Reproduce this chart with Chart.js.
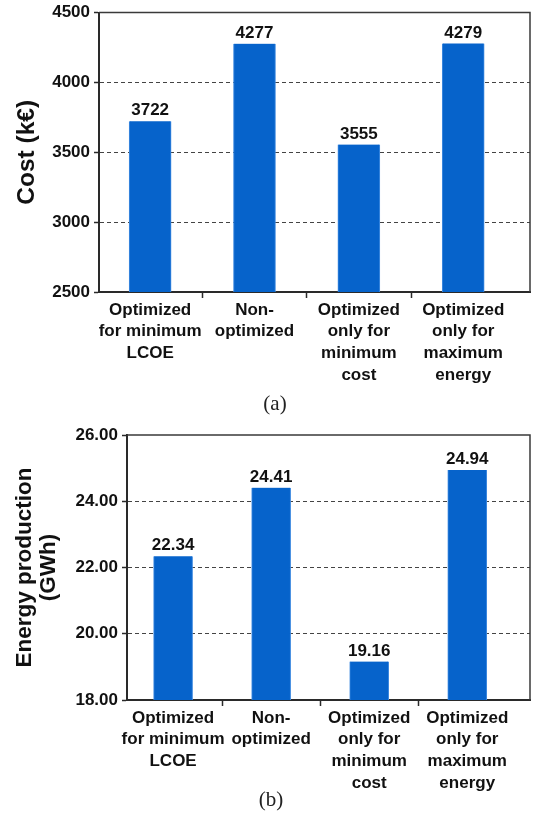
<!DOCTYPE html>
<html>
<head>
<meta charset="utf-8">
<script src="https://cdn.jsdelivr.net/npm/chart.js@4.4.1/dist/chart.umd.min.js"></script>
<style>
  html, body { margin: 0; padding: 0; background: #fff; }
  body { width: 537px; height: 814px; position: relative; overflow: hidden; }
  .wrap { position: absolute; left: 0; width: 537px; }
  .cap { position: absolute; font-family: 'Liberation Serif', 'DejaVu Serif', serif; font-size: 21px; color: #222; transform: translate(-50%, -50%); white-space: nowrap; z-index: 5; }
</style>
</head>
<body>
<div class="wrap" style="top:0;height:410px"><canvas id="c1" width="537" height="410"></canvas></div>
<div class="wrap" style="top:410px;height:404px"><canvas id="c2" width="537" height="404"></canvas></div>
<div class="cap" style="left:275px;top:403px">(a)</div>
<div class="cap" style="left:271px;top:799px">(b)</div>
<script>
// ---- data ----
const categories = [
  ['Optimized', 'for minimum', 'LCOE'],
  ['Non-', 'optimized'],
  ['Optimized', 'only for', 'minimum', 'cost'],
  ['Optimized', 'only for', 'maximum', 'energy']
];
const costValues = [3722, 4277, 3555, 4279];
const energyValues = [22.34, 24.41, 19.16, 24.94];
const costTicks = [2500, 3000, 3500, 4000, 4500];
const energyTicks = [18, 20, 22, 24, 26];
const costTitle = 'Cost (k€)';
const energyTitle = ['Energy production', '(GWh)'];

// ---- styling ----
const BAR = '#0663cb';
const AXIS = '#2a2a2a';
const FONT = "'Liberation Sans', Arial, sans-serif";
const TXT = '#111';

const frameAndLabels = {
  id: 'frameAndLabels',
  afterDatasetsDraw(chart, args, opts) {
    const {ctx, chartArea: a} = chart;
    ctx.save();
    ctx.strokeStyle = '#3a3a3a';
    ctx.lineWidth = 1.5;
    ctx.beginPath();
    ctx.moveTo(a.left, a.top);
    ctx.lineTo(a.right, a.top);
    ctx.lineTo(a.right, a.bottom);
    ctx.stroke();
    const meta = chart.getDatasetMeta(0);
    ctx.fillStyle = TXT;
    ctx.font = 'bold 17px ' + FONT;
    ctx.textAlign = 'center';
    ctx.textBaseline = 'bottom';
    meta.data.forEach((el, i) => {
      const v = chart.data.datasets[0].data[i].y;
      ctx.fillText(opts.fmt(v), el.x, el.y - 2);
    });
    ctx.restore();
  }
};

function makeChart(id, values, yTicks, title, cfg) {
  const boundaryTicks = [0, 0.5, 1, 1.5, 2, 2.5, 3];
  return new Chart(document.getElementById(id), {
    type: 'bar',
    data: {
      datasets: [{
        data: values.map((v, i) => ({x: i, y: v})),
        backgroundColor: BAR,
        borderColor: '#3f8ae0',
        borderWidth: {left: 1, right: 1, top: 0, bottom: 0},
        barThickness: cfg.barThickness
      }]
    },
    options: {
      responsive: false,
      animation: false,
      devicePixelRatio: 1,
      layout: {padding: {top: cfg.padTop, right: 7, left: 0, bottom: 0}},
      plugins: {
        legend: {display: false},
        tooltip: {enabled: false},
        frameAndLabels: {fmt: cfg.fmt}
      },
      scales: {
        x: {
          type: 'linear',
          offset: false,
          min: cfg.xMin,
          max: cfg.xMax,
          afterBuildTicks: (s) => { s.ticks = boundaryTicks.map(v => ({value: v})); },
          afterFit: (s) => { s.height = cfg.xHeight; },
          ticks: {
            autoSkip: false,
            maxRotation: 0,
            minRotation: 0,
            padding: 1,
            color: TXT,
            font: {family: FONT, size: 17, weight: 'bold', lineHeight: 1.28},
            callback: (v) => Number.isInteger(v) ? categories[v] : ''
          },
          grid: {
            display: true,
            offset: false,
            drawOnChartArea: false,
            drawTicks: true,
            tickLength: 6,
            tickWidth: 1.5,
            tickColor: (c) => (c.tick && c.tick.value % 1 !== 0) ? AXIS : 'rgba(0,0,0,0)'
          },
          border: {display: true, color: AXIS, width: 2}
        },
        y: {
          min: yTicks[0],
          max: yTicks[yTicks.length - 1],
          afterBuildTicks: (s) => { s.ticks = yTicks.map(v => ({value: v})); },
          afterFit: (s) => { s.width = cfg.yWidth; },
          ticks: {
            padding: 4,
            color: TXT,
            font: {family: FONT, size: 17, weight: 'bold', lineHeight: 1},
            callback: cfg.tickFmt
          },
          grid: {
            drawTicks: true,
            tickLength: 5,
            tickWidth: 1.5,
            tickColor: AXIS,
            tickBorderDash: [],
            lineWidth: 1,
            color: (c) => (c.tick && (c.tick.value === yTicks[0] || c.tick.value === yTicks[yTicks.length - 1])) ? 'rgba(0,0,0,0)' : '#444'
          },
          border: {display: true, color: AXIS, width: 2, dash: [4, 3]},
          title: {
            display: true,
            text: title,
            color: TXT,
            font: {family: FONT, size: cfg.titleSize, weight: 'bold', lineHeight: cfg.titleLH},
            padding: {top: cfg.titlePad, bottom: 0}
          }
        }
      }
    },
    plugins: [frameAndLabels]
  });
}

makeChart('c1', costValues, costTicks, costTitle, {
  barThickness: 42, padTop: 9, xMin: -0.49, xMax: 3.64, xHeight: 118, yWidth: 99,
  fmt: (v) => String(v), tickFmt: (v) => String(v),
  titleSize: 24.5, titleLH: 1.2, titlePad: 13
});
makeChart('c2', energyValues, energyTicks, energyTitle, {
  barThickness: 39, padTop: 25, xMin: -0.47, xMax: 3.64, xHeight: 114, yWidth: 127,
  fmt: (v) => v.toFixed(2), tickFmt: (v) => v.toFixed(2),
  titleSize: 22.5, titleLH: 1.06, titlePad: 13
});
</script>
</body>
</html>
